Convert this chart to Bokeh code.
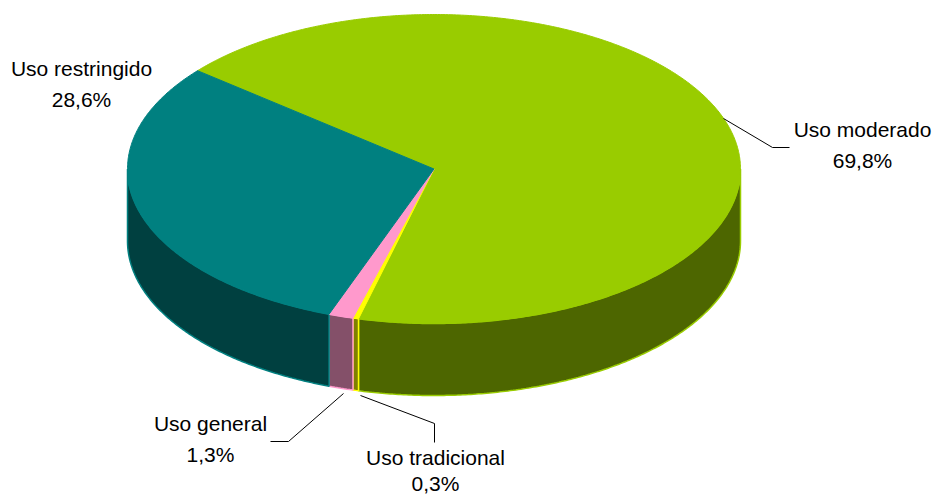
import numpy as np
from bokeh.plotting import figure
from bokeh.models import Range1d, ColumnDataSource
from bokeh.embed import file_html
from bokeh.resources import INLINE
from bokeh.core.properties import value

# ---------------- data ----------------
categories = ["Uso moderado", "Uso tradicional", "Uso general", "Uso restringido"]
percents = [69.8, 0.3, 1.3, 28.6]
pct_labels = ["69,8%", "0,3%", "1,3%", "28,6%"]

# ---------------- styles ----------------
top_colors = ["#99CC00", "#FFFF00", "#FF99CC", "#008080"]
side_colors = ["#4D6600", "#808000", "#845069", "#004040"]

# ---------------- layout (reference pixel space) ----------------
CX, CY, RX, RY, DEPTH = 433.5, 168.5, 306.5, 154.5, 72.0
START_DEG = 141.9             # first slice starts here, slices go clockwise
SKEW_A, SKEW_C = 5.13, 157.9  # mild perspective skew of the 3D view

label_x = [862, 435, 210, 81]
label_y = [129, 457, 423, 68]
line_gap = [30.5, 26.0, 30.5, 30.5]
leader_xs = [[723, 772, 789], [360, 434, 434], [343, 288, 270]]
leader_ys = [[118, 147, 147], [395, 423, 442], [393, 441, 441]]


def proj_angle(phi):
    return phi + SKEW_A * np.sin(np.radians(phi - SKEW_C))


def ell(theta_deg, dy=0.0):
    t = np.radians(theta_deg)
    return CX + RX * np.cos(t), CY - RY * np.sin(t) + dy


top_xs, top_ys = [], []
wall_xs, wall_ys, wall_fill, wall_line = [], [], [], []
cum = 0.0
for i, v in enumerate(percents):
    a0 = START_DEG - cum * 3.6
    a1 = a0 - v * 3.6
    cum += v
    t0, t1 = proj_angle(a0), proj_angle(a1)
    n = max(4, int(abs(t0 - t1) * 2))
    ts = np.linspace(t0, t1, n)
    x, y = ell(ts)
    top_xs.append([CX] + list(x))
    top_ys.append([CY] + list(y))
    for k in (-2, -1, 0, 1):
        lo = max(t1, -180 + 360 * k)
        hi = min(t0, 360 * k)
        if hi > lo:
            tw = np.linspace(hi, lo, max(3, int((hi - lo) * 2)))
            xt, yt = ell(tw)
            xb, yb = ell(tw[::-1], DEPTH)
            wall_xs.append(list(xt) + list(xb))
            wall_ys.append(list(yt) + list(yb))
            wall_fill.append(side_colors[i])
            wall_line.append(top_colors[i])

W, H = 933, 497
p = figure(width=W, height=H,
           x_range=Range1d(0, W), y_range=Range1d(H, 0),
           x_axis_type=None, y_axis_type=None,
           output_backend="svg", toolbar_location=None, min_border=0)
p.grid.visible = False
p.outline_line_color = None
p.background_fill_color = "white"
p.border_fill_color = "white"

wsrc = ColumnDataSource(dict(xs=wall_xs, ys=wall_ys, fill=wall_fill, line=wall_line))
p.patches("xs", "ys", source=wsrc, fill_color="fill", line_color="line", line_width=1.5)

tsrc = ColumnDataSource(dict(xs=top_xs, ys=top_ys, fill=top_colors))
p.patches("xs", "ys", source=tsrc, fill_color="fill", line_color="fill", line_width=1)

p.multi_line(leader_xs, leader_ys, line_color="black", line_width=1)

lsrc = ColumnDataSource(dict(
    x=label_x + label_x,
    y=label_y + [v + g for v, g in zip(label_y, line_gap)],
    text=categories + pct_labels))
p.text(x="x", y="y", text="text", source=lsrc, text_align="center",
       text_baseline="alphabetic", text_font=value("Liberation Sans"),
       text_font_size="21px", text_color="#000000")

open("out.html", "w").write(file_html(p, INLINE))
